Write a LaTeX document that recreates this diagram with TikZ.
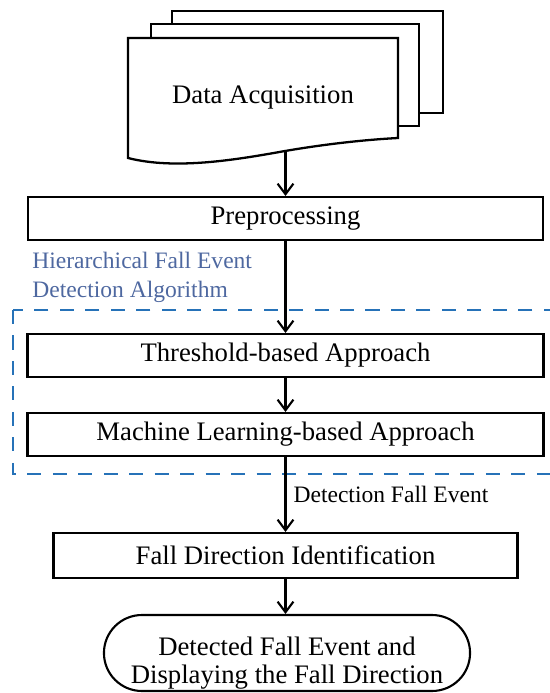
\documentclass[tikz,border=0pt]{standalone}
\usepackage{fontspec}
\setmainfont{Liberation Serif}
\usetikzlibrary{arrows.meta,shapes.misc}
\definecolor{algoblue}{RGB}{78,104,160}
\definecolor{dashblue}{RGB}{38,114,184}

\begin{document}
\begin{tikzpicture}[x=0.02cm,y=-0.02cm,
	box/.style={draw, line width=1.2pt, fill=white, minimum height=0.86cm, font=\fontsize{15.2}{15.9}\selectfont},
	arr/.style={line width=1.2pt, -{Straight Barb[length=6pt,width=9pt,line width=1.2pt]}},
	note/.style={font=\fontsize{13.4}{16.4}\selectfont, align=left, inner sep=0pt},
	dashbox/.style={draw=dashblue, line width=1.7pt, dash pattern=on 8pt off 6.5pt}]
	\useasboundingbox (0,0) rectangle (550,693);
	\clip (0,0) rectangle (550,693);

	% stacked documents
	\draw [line width=1.3pt, fill=white] (172,11) rectangle (443,113);
	\draw [line width=1.3pt, fill=white] (151,24) rectangle (419,126);
	\draw [line width=1.3pt, fill=white] (128,38) -- (398,38) -- (398,138) .. controls (360,140) and (320,145) .. (285,151) .. controls (235,160) and (175,170) .. (128,158) -- cycle;
	\node (acq) at (263,98) [font=\fontsize{15.2}{15.9}\selectfont] {Data Acquisition};
	\coordinate (acqout) at (285.5,151);

	\node (prep) at (285.5,218.5) [box, minimum width=10.3cm] {Preprocessing};

	% algorithm frame
	\node (algo) at (32,297) [note, anchor=base west, text=algoblue] {Hierarchical Fall Event\\Detection Algorithm};
	\draw [dashbox] (13,310) rectangle (580,474);

	\node (thresh) at (285.5,355.5) [box, minimum width=10.32cm] {Threshold-based Approach};
	\node (ml) at (285.5,434.5) [box, minimum width=10.32cm] {Machine Learning-based Approach};

	\node (fdir) at (285.5,555.5) [box, minimum width=9.28cm, minimum height=0.9cm] {Fall Direction Identification};
	\node (out) at (287,653) [box, rounded rectangle, minimum width=7.2cm, minimum height=1.52cm, align=center, inner sep=0pt] {\rule{0pt}{0.78cm}Detected Fall Event and\\Displaying the Fall Direction};

	\draw [arr] (acqout) -- (acqout |- prep.north);
	\draw [arr] (prep) -- (thresh);
	\draw [arr] (thresh) -- (ml);
	\draw [arr] (ml) -- node[note, midway, right, xshift=0.14cm] {Detection Fall Event} (fdir);
	\draw [arr] (fdir.south) -- (fdir.south |- out.north);
\end{tikzpicture}
\end{document}
